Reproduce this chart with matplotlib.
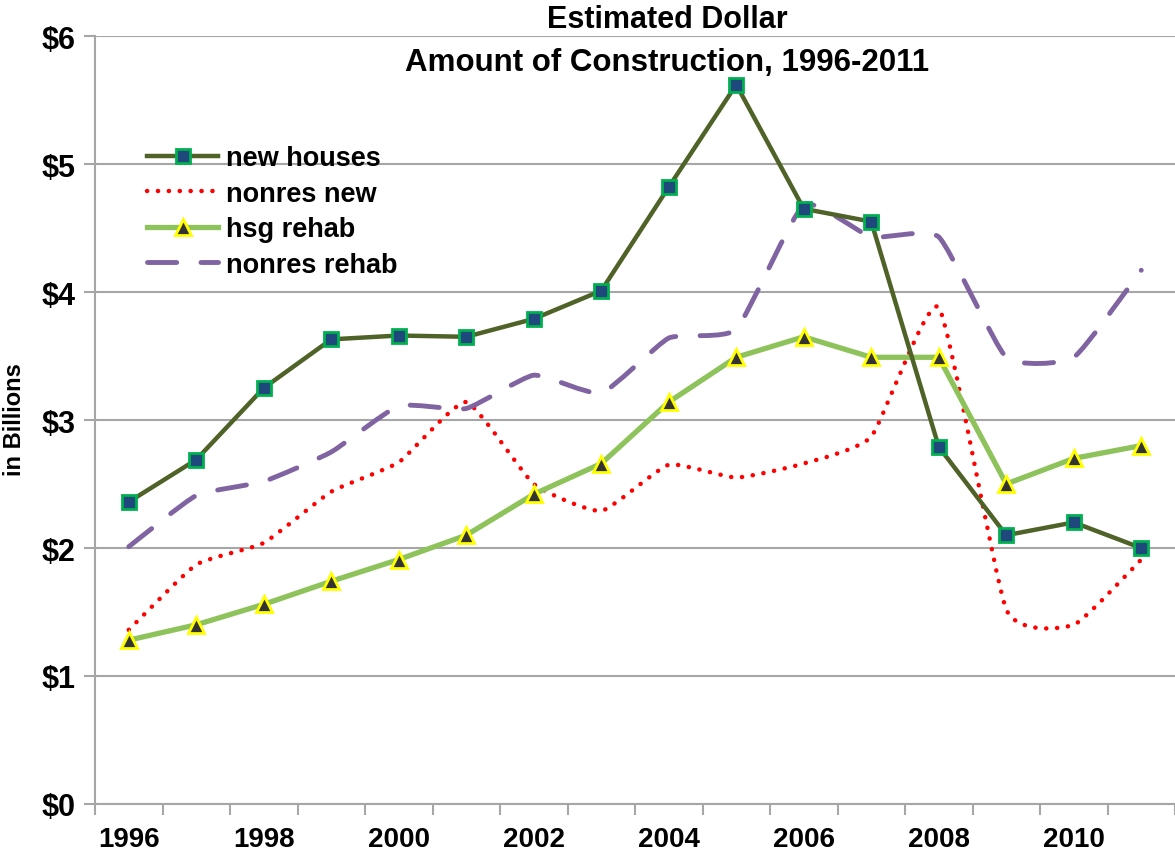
import numpy as np
import matplotlib.pyplot as plt
from matplotlib.path import Path
from matplotlib.patches import PathPatch
from matplotlib.lines import Line2D

plt.rcParams['font.family'] = ['Liberation Sans', 'DejaVu Sans']
plt.rcParams['font.weight'] = 'bold'

# data (billions of dollars)
years = list(range(1996, 2012))
new_houses = [2.36, 2.69, 3.25, 3.63, 3.66, 3.65, 3.79, 4.01, 4.82, 5.62, 4.65, 4.55, 2.79, 2.10, 2.20, 2.00]
nonres_new = [1.36, 1.87, 2.04, 2.44, 2.67, 3.14, 2.50, 2.29, 2.65, 2.55, 2.66, 2.87, 3.88, 1.52, 1.40, 1.91]
hsg_rehab = [1.28, 1.40, 1.56, 1.74, 1.91, 2.10, 2.42, 2.66, 3.14, 3.49, 3.65, 3.49, 3.49, 2.50, 2.70, 2.80]
nonres_rehab = [2.01, 2.41, 2.52, 2.75, 3.11, 3.09, 3.35, 3.21, 3.64, 3.71, 4.68, 4.43, 4.43, 3.49, 3.49, 4.17]
y_ticks = [0, 1, 2, 3, 4, 5, 6]

c_dark = '#4F6228'
c_light = '#8DC35A'
c_red = '#FF0000'
c_purple = '#8064A2'
c_grid = '#A6A6A6'


def smooth_path(xs, ys, k=0.08):
    # smoothed line like Excel: cardinal spline segments as cubic Beziers
    pts = np.column_stack([xs, ys]).astype(float)
    n = len(pts)
    verts = [pts[0]]
    codes = [Path.MOVETO]
    for i in range(n - 1):
        p0 = pts[i - 1] if i > 0 else pts[i]
        p1 = pts[i]
        p2 = pts[i + 1]
        p3 = pts[i + 2] if i + 2 < n else pts[i + 1]
        c1 = p1 + (p2 - p0) * k
        c2 = p2 - (p3 - p1) * k
        verts += [c1, c2, p2]
        codes += [Path.CURVE4] * 3
    return Path(verts, codes)


fig = plt.figure(figsize=(11.75, 8.62), dpi=100)
ax = fig.add_axes([95 / 1175, 1 - 805 / 862, 1 - 95 / 1175, (805 - 37) / 862])

x = np.arange(len(years))

red_ls = (0, (0.05, 2.4))
purple_ls = (0, (6.0, 5.0))

# nonres new - red dotted, smoothed
ax.add_patch(PathPatch(smooth_path(x, nonres_new), edgecolor=c_red, facecolor='none',
                       linewidth=3.2, linestyle=red_ls, capstyle='round', zorder=3))

# nonres rehab - purple dashed, smoothed
ax.add_patch(PathPatch(smooth_path(x, nonres_rehab), edgecolor=c_purple, facecolor='none',
                       linewidth=3.5, linestyle=purple_ls, capstyle='round', zorder=3))

ax.plot(x, hsg_rehab, color=c_light, linewidth=3.8, marker='^', markersize=11,
        markerfacecolor='#333333', markeredgecolor='#FFFF00', markeredgewidth=2, zorder=4)
ax.plot(x, new_houses, color=c_dark, linewidth=3.2, marker='s', markersize=10,
        markerfacecolor='#1F497D', markeredgecolor='#00B050', markeredgewidth=2, zorder=5)

ax.set_xlim(-0.5, len(years) - 0.5)
ax.set_ylim(0, 6)

ax.set_yticks(y_ticks)
ax.set_yticklabels(['$' + str(v) for v in y_ticks], fontsize=22, fontweight='bold')
ax.yaxis.grid(True, color=c_grid, linewidth=1.5)
ax.set_axisbelow(True)
ax.tick_params(axis='y', length=8, width=1.5, color=c_grid, pad=6)

ax.set_xticks(x[::2])
ax.set_xticklabels([str(y) for y in years[::2]], fontsize=20, fontweight='bold')
ax.set_xticks(np.arange(-0.5, len(years)), minor=True)
ax.tick_params(axis='x', which='major', length=0, pad=16)
ax.tick_params(axis='x', which='minor', length=8, width=1.5, color=c_grid)

for s in ['top', 'right']:
    ax.spines[s].set_visible(False)
for s in ['left', 'bottom']:
    ax.spines[s].set_color(c_grid)
    ax.spines[s].set_linewidth(1.5)

fig.text(15 / 1175, 1 - 420 / 862, 'in Billions', rotation=90, fontsize=17,
         fontweight='bold', ha='center', va='center')
fig.text(667 / 1175, 1 - 20 / 862, 'Estimated Dollar', fontsize=22, fontweight='bold',
         ha='center', va='center')
fig.text(667 / 1175, 1 - 63 / 862, 'Amount of Construction, 1996-2011', fontsize=22.5,
         fontweight='bold', ha='center', va='center')

handles = [
    Line2D([], [], color=c_dark, linewidth=3.2, marker='s', markersize=10,
           markerfacecolor='#1F497D', markeredgecolor='#00B050', markeredgewidth=2),
    Line2D([], [], color=c_red, linewidth=3.2, linestyle=red_ls, dash_capstyle='round'),
    Line2D([], [], color=c_light, linewidth=3.8, marker='^', markersize=11,
           markerfacecolor='#333333', markeredgecolor='#FFFF00', markeredgewidth=2),
    Line2D([], [], color=c_purple, linewidth=3.5, linestyle=purple_ls, dash_capstyle='round'),
]
labels = ['new houses', 'nonres new', 'hsg rehab', 'nonres rehab']
fig.legend(handles, labels, loc='upper left', bbox_to_anchor=(123 / 1175, 1 - 122 / 862),
           frameon=False, handlelength=2.6, handletextpad=0.3,
           labelspacing=0.35, prop={'weight': 'bold', 'size': 19.5})

fig.savefig('out.png', dpi=100)
